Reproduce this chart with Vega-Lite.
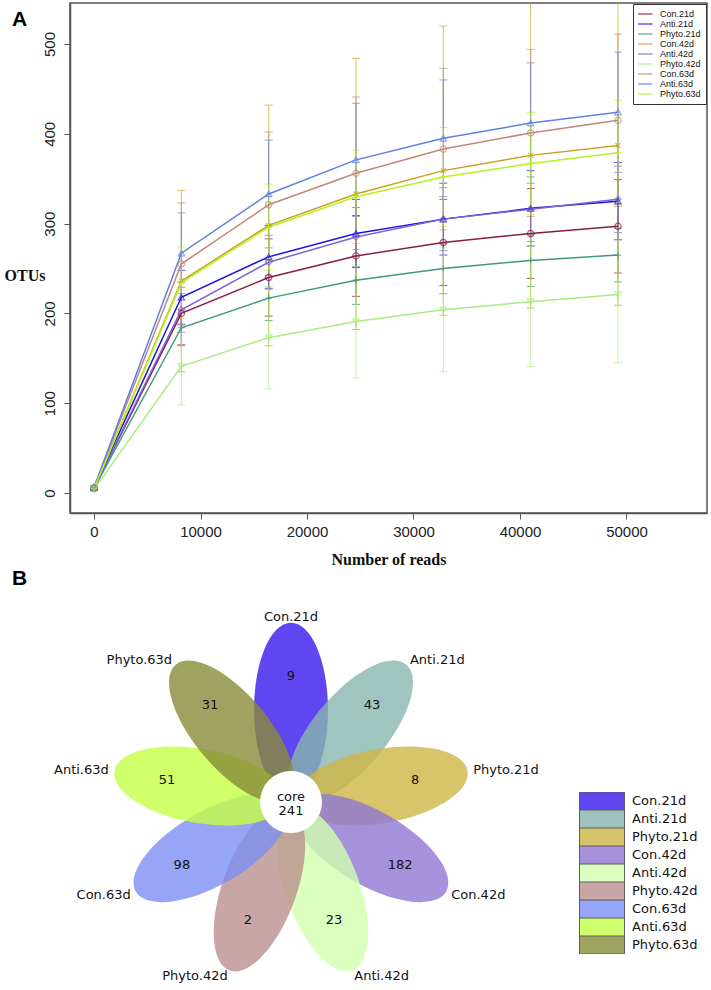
{
  "$schema": "https://vega.github.io/schema/vega-lite/v6.json",
  "padding": {"left": 3, "top": 2, "right": 0, "bottom": 0},
  "background": "white",
  "config": {"font": "Liberation Sans", "view": {"stroke": "#555", "strokeWidth": 1.5}},
  "spacing": 0,
  "resolve": {"scale": {"color": "independent", "shape": "independent"}, "legend": {"color": "independent"}},
  "vconcat": [
    {
      "width": 637,
      "height": 510,
      "title": {"text": "A", "anchor": "start", "frame": "group", "dx": -58, "offset": -27, "fontSize": 21, "fontWeight": "bold", "font": "Liberation Sans", "color": "#000"},
      "data": {"values": [
        {"series": "Con.21d", "reads": 0, "otu": 5, "sd": 1},
        {"series": "Con.21d", "reads": 8200, "otu": 200, "sd": 35},
        {"series": "Con.21d", "reads": 16400, "otu": 240, "sd": 43},
        {"series": "Con.21d", "reads": 24600, "otu": 264, "sd": 45},
        {"series": "Con.21d", "reads": 32800, "otu": 279, "sd": 48},
        {"series": "Con.21d", "reads": 41000, "otu": 289, "sd": 50},
        {"series": "Con.21d", "reads": 49200, "otu": 297, "sd": 52},
        {"series": "Anti.21d", "reads": 0, "otu": 6, "sd": 1},
        {"series": "Anti.21d", "reads": 8200, "otu": 218, "sd": 30},
        {"series": "Anti.21d", "reads": 16400, "otu": 263, "sd": 35},
        {"series": "Anti.21d", "reads": 24600, "otu": 289, "sd": 38},
        {"series": "Anti.21d", "reads": 32800, "otu": 305, "sd": 40},
        {"series": "Anti.21d", "reads": 41000, "otu": 317, "sd": 42},
        {"series": "Anti.21d", "reads": 49200, "otu": 325, "sd": 43},
        {"series": "Phyto.21d", "reads": 0, "otu": 5, "sd": 1},
        {"series": "Phyto.21d", "reads": 8200, "otu": 184, "sd": 20},
        {"series": "Phyto.21d", "reads": 16400, "otu": 217, "sd": 25},
        {"series": "Phyto.21d", "reads": 24600, "otu": 237, "sd": 27},
        {"series": "Phyto.21d", "reads": 32800, "otu": 250, "sd": 28},
        {"series": "Phyto.21d", "reads": 41000, "otu": 259, "sd": 29},
        {"series": "Phyto.21d", "reads": 49200, "otu": 265, "sd": 30},
        {"series": "Con.42d", "reads": 0, "otu": 5, "sd": 2},
        {"series": "Con.42d", "reads": 8200, "otu": 236, "sd": 101},
        {"series": "Con.42d", "reads": 16400, "otu": 298, "sd": 134},
        {"series": "Con.42d", "reads": 24600, "otu": 333, "sd": 151},
        {"series": "Con.42d", "reads": 32800, "otu": 359, "sd": 161},
        {"series": "Con.42d", "reads": 41000, "otu": 376, "sd": 170},
        {"series": "Con.42d", "reads": 49200, "otu": 387, "sd": 178},
        {"series": "Anti.42d", "reads": 0, "otu": 5, "sd": 1},
        {"series": "Anti.42d", "reads": 8200, "otu": 204, "sd": 25},
        {"series": "Anti.42d", "reads": 16400, "otu": 257, "sd": 30},
        {"series": "Anti.42d", "reads": 24600, "otu": 285, "sd": 33},
        {"series": "Anti.42d", "reads": 32800, "otu": 305, "sd": 35},
        {"series": "Anti.42d", "reads": 41000, "otu": 316, "sd": 36},
        {"series": "Anti.42d", "reads": 49200, "otu": 327, "sd": 37},
        {"series": "Phyto.42d", "reads": 0, "otu": 4, "sd": 1},
        {"series": "Phyto.42d", "reads": 8200, "otu": 141, "sd": 43},
        {"series": "Phyto.42d", "reads": 16400, "otu": 173, "sd": 57},
        {"series": "Phyto.42d", "reads": 24600, "otu": 191, "sd": 63},
        {"series": "Phyto.42d", "reads": 32800, "otu": 204, "sd": 69},
        {"series": "Phyto.42d", "reads": 41000, "otu": 213, "sd": 72},
        {"series": "Phyto.42d", "reads": 49200, "otu": 221, "sd": 76},
        {"series": "Con.63d", "reads": 0, "otu": 6, "sd": 2},
        {"series": "Con.63d", "reads": 8200, "otu": 255, "sd": 68},
        {"series": "Con.63d", "reads": 16400, "otu": 321, "sd": 81},
        {"series": "Con.63d", "reads": 24600, "otu": 356, "sd": 85},
        {"series": "Con.63d", "reads": 32800, "otu": 383, "sd": 90},
        {"series": "Con.63d", "reads": 41000, "otu": 401, "sd": 93},
        {"series": "Con.63d", "reads": 49200, "otu": 415, "sd": 96},
        {"series": "Anti.63d", "reads": 0, "otu": 6, "sd": 2},
        {"series": "Anti.63d", "reads": 8200, "otu": 267, "sd": 45},
        {"series": "Anti.63d", "reads": 16400, "otu": 333, "sd": 60},
        {"series": "Anti.63d", "reads": 24600, "otu": 371, "sd": 63},
        {"series": "Anti.63d", "reads": 32800, "otu": 395, "sd": 65},
        {"series": "Anti.63d", "reads": 41000, "otu": 412, "sd": 67},
        {"series": "Anti.63d", "reads": 49200, "otu": 424, "sd": 67},
        {"series": "Phyto.63d", "reads": 0, "otu": 5, "sd": 2},
        {"series": "Phyto.63d", "reads": 8200, "otu": 234, "sd": 40},
        {"series": "Phyto.63d", "reads": 16400, "otu": 296, "sd": 48},
        {"series": "Phyto.63d", "reads": 24600, "otu": 330, "sd": 52},
        {"series": "Phyto.63d", "reads": 32800, "otu": 352, "sd": 55},
        {"series": "Phyto.63d", "reads": 41000, "otu": 367, "sd": 57},
        {"series": "Phyto.63d", "reads": 49200, "otu": 379, "sd": 58}
      ]},
      "encoding": {
        "x": {"field": "reads", "type": "quantitative",
          "scale": {"domain": [-2254, 57560], "nice": false, "zero": false},
          "axis": {"values": [0, 10000, 20000, 30000, 40000, 50000], "format": "d", "grid": false,
            "domainColor": "#555", "domainWidth": 1.5, "tickColor": "#555", "tickSize": 6, "tickWidth": 1,
            "labelFontSize": 15, "labelColor": "#222", "labelPadding": 5, "labelFont": "Liberation Sans",
            "title": "Number of reads", "titleFont": "Liberation Serif", "titleFontSize": 16, "titleFontWeight": "bold", "titleColor": "#111", "titlePadding": 12}},
        "y": {"field": "otu", "type": "quantitative",
          "scale": {"domain": [-22.3, 545.7], "nice": false, "zero": false},
          "axis": {"values": [0, 100, 200, 300, 400, 500], "grid": false,
            "domainColor": "#555", "domainWidth": 1.5, "tickColor": "#555", "tickSize": 6, "tickWidth": 1,
            "labelFontSize": 15, "labelColor": "#222", "labelAngle": -90, "labelAlign": "center", "labelBaseline": "alphabetic", "labelPadding": 10, "labelFont": "Liberation Sans",
            "title": "OTUs", "titleAngle": 0, "titleAlign": "center", "titleBaseline": "middle", "titleX": -45.5, "titleY": 272,
            "titleFont": "Liberation Serif", "titleFontSize": 16, "titleFontWeight": "bold", "titleColor": "#111"}}
      },
      "layer": [
        {"mark": {"type": "errorbar", "ticks": {"size": 8}, "thickness": 1, "opacity": 0.7, "clip": true},
         "encoding": {"yError": {"field": "sd"},
           "color": {"field": "series", "type": "nominal",
             "scale": {"domain": ["Con.21d", "Anti.21d", "Phyto.21d", "Con.42d", "Anti.42d", "Phyto.42d", "Con.63d", "Anti.63d", "Phyto.63d"],
               "range": ["#8b1c3c", "#1c14d8", "#3f9a78", "#c8a21e", "#7c64d8", "#a6ee7e", "#c08878", "#5d7fe6", "#b6f21c"]},
             "legend": {"orient": "top-right", "offset": 1, "title": null, "symbolType": "M-1.7,0H1.7", "symbolSize": 100, "symbolStrokeWidth": 1.5,
               "labelFontSize": 9, "labelFont": "Liberation Sans", "labelColor": "#111", "labelOffset": 10, "strokeColor": "#333", "fillColor": "white",
               "padding": 5, "rowPadding": 0, "clipHeight": 10}}}},
        {"mark": {"type": "line", "strokeWidth": 1.5},
         "encoding": {"color": {"field": "series", "type": "nominal",
             "scale": {"domain": ["Con.21d", "Anti.21d", "Phyto.21d", "Con.42d", "Anti.42d", "Phyto.42d", "Con.63d", "Anti.63d", "Phyto.63d"],
               "range": ["#8b1c3c", "#1c14d8", "#3f9a78", "#c8a21e", "#7c64d8", "#a6ee7e", "#c08878", "#5d7fe6", "#b6f21c"]},
             "legend": {"orient": "top-right", "offset": 1, "title": null, "symbolType": "M-1.7,0H1.7", "symbolSize": 100, "symbolStrokeWidth": 1.5,
               "labelFontSize": 9, "labelFont": "Liberation Sans", "labelColor": "#111", "labelOffset": 10, "strokeColor": "#333", "fillColor": "white",
               "padding": 5, "rowPadding": 0, "clipHeight": 10}}}},
        {"mark": {"type": "point", "filled": false, "size": 40, "strokeWidth": 1.2},
         "encoding": {
           "stroke": {"field": "series", "type": "nominal",
             "scale": {"range": ["#1c14d8", "#7c64d8", "#5d7fe6", "#8b1c3c", "#c8a21e", "#c08878", "#3f9a78", "#a6ee7e", "#b6f21c"]},
             "legend": null},
           "shape": {"field": "series", "type": "nominal",
             "scale": {"range": ["triangle-up", "diamond", "triangle-up", "circle", "M-0.8,-0.8L0.8,0.8M-0.8,0.8L0.8,-0.8", "circle", "M-1,0H1M0,-1V1", "triangle-down", "M-1,0H1M0,-1V1"]},
             "legend": null}}}
      ]
    },
    {
      "width": 442,
      "height": 370,
      "view": {"stroke": null},
      "title": {"text": "B", "anchor": "start", "frame": "group", "dx": -58, "offset": 22, "fontSize": 21, "fontWeight": "bold", "font": "Liberation Sans", "color": "#000"},
      "data": {"values": [
        {"idx": 0, "set": "Con.21d", "count": 9},
        {"idx": 1, "set": "Anti.21d", "count": 43},
        {"idx": 2, "set": "Phyto.21d", "count": 8},
        {"idx": 3, "set": "Con.42d", "count": 182},
        {"idx": 4, "set": "Anti.42d", "count": 23},
        {"idx": 5, "set": "Phyto.42d", "count": 2},
        {"idx": 6, "set": "Con.63d", "count": 98},
        {"idx": 7, "set": "Anti.63d", "count": 51},
        {"idx": 8, "set": "Phyto.63d", "count": 31}
      ]},
      "layer": [
        {"mark": {"type": "point", "shape": "M0,-2.06C0.2347,-2.06 0.425,-1.6123 0.425,-1.06C0.425,-0.5077 0.2347,-0.06 0,-0.06C-0.2347,-0.06 -0.425,-0.5077 -0.425,-1.06C-0.425,-1.6123 -0.2347,-2.06 0,-2.06Z",
           "filled": true, "opacity": 0.8, "size": 30276, "strokeWidth": 0},
         "encoding": {
           "angle": {"field": "idx", "type": "quantitative", "scale": {"domain": [0, 9], "range": [0, 360]}},
           "color": {"field": "set", "type": "nominal",
             "scale": {"domain": ["Con.21d", "Anti.21d", "Phyto.21d", "Con.42d", "Anti.42d", "Phyto.42d", "Con.63d", "Anti.63d", "Phyto.63d"],
               "range": ["#3718ec", "#88b5ae", "#ceb545", "#9077d3", "#d1ffae", "#ba908f", "#7c8ff3", "#c4ff45", "#888c38"]},
             "legend": {"orient": "none", "legendX": 509, "legendY": 175, "title": null,
               "symbolType": "M-1,-1.06H4.3V1.06H-1Z", "symbolSize": 289, "symbolStrokeColor": "#333", "symbolStrokeWidth": 1,
               "labelFont": "DejaVu Sans", "labelFontSize": 13, "labelColor": "#111", "labelOffset": 35, "rowPadding": 0, "padding": 0, "clipHeight": 18}}
         }},
        {"data": {"values": [{"label": "core", "count": 241}]},
         "mark": {"type": "point", "shape": "circle", "filled": true, "color": "white", "opacity": 1, "size": 3844, "strokeWidth": 0},
         "encoding": {}},
        {"mark": {"type": "text", "font": "DejaVu Sans", "fontSize": 13, "color": "#111", "align": "center", "baseline": "middle"},
         "encoding": {
           "theta": {"field": "idx", "type": "quantitative", "scale": {"domain": [0, 9], "range": [0, 6.283185]}, "stack": false},
           "radius": {"value": 126},
           "text": {"field": "count"}}},
        {"transform": [{"filter": "datum.idx == 0"}],
         "mark": {"type": "text", "font": "DejaVu Sans", "fontSize": 13, "color": "#111", "align": "center", "baseline": "middle"},
         "encoding": {
           "theta": {"field": "idx", "type": "quantitative", "scale": {"domain": [0, 9], "range": [0, 6.283185]}, "stack": false},
           "radius": {"value": 185},
           "text": {"field": "set"}}},
        {"transform": [{"filter": "datum.idx >= 1 && datum.idx <= 4"}],
         "mark": {"type": "text", "font": "DejaVu Sans", "fontSize": 13, "color": "#111", "align": "left", "baseline": "middle"},
         "encoding": {
           "theta": {"field": "idx", "type": "quantitative", "scale": {"domain": [0, 9], "range": [0, 6.283185]}, "stack": false},
           "radius": {"value": 185},
           "text": {"field": "set"}}},
        {"transform": [{"filter": "datum.idx >= 5"}],
         "mark": {"type": "text", "font": "DejaVu Sans", "fontSize": 13, "color": "#111", "align": "right", "baseline": "middle"},
         "encoding": {
           "theta": {"field": "idx", "type": "quantitative", "scale": {"domain": [0, 9], "range": [0, 6.283185]}, "stack": false},
           "radius": {"value": 185},
           "text": {"field": "set"}}},
        {"data": {"values": [{"label": "core", "count": 241}]},
         "mark": {"type": "text", "font": "DejaVu Sans", "fontSize": 13, "color": "#111", "align": "center", "baseline": "middle", "dy": -5},
         "encoding": {"text": {"field": "label"}}},
        {"data": {"values": [{"label": "core", "count": 241}]},
         "mark": {"type": "text", "font": "DejaVu Sans", "fontSize": 13, "color": "#111", "align": "center", "baseline": "middle", "dy": 9},
         "encoding": {"text": {"field": "count"}}}
      ]
    }
  ]
}
